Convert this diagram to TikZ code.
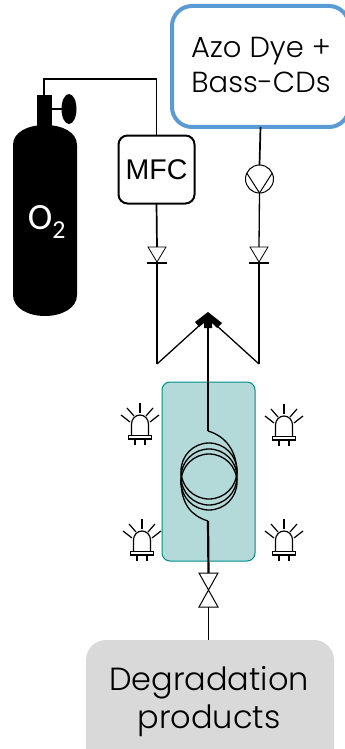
\documentclass[tikz,border=0pt]{standalone}
\usepackage{fontspec}
\usepackage{xcolor}
\usetikzlibrary{shapes.geometric}
\newfontfamily\poppins{Poppins Light}
\setmainfont{Liberation Sans}
\newfontfamily\carlito{Carlito}
\definecolor{dyeblue}{HTML}{5B9BD5}
\definecolor{reactorfill}{HTML}{B3D9D8}
\definecolor{reactoredge}{HTML}{008B8B}
\definecolor{productgray}{HTML}{D9D9D9}
\tikzset{
	pipe/.style={line width=1.7pt},
	thinpipe/.style={line width=1.3pt},
	feedpipe/.style={line width=2.2pt},
	led/.pic={
		\draw[line width=1.2pt] (-8.5,20) -- (-8.5,9) arc (180:360:8.5 and 9) -- (8.5,20);
		\draw[line width=1.2pt, fill=white] (-11.5,20.5) rectangle (11.5,24);
		\draw[line width=1.2pt] (-5,24) -- (-5,30);
		\draw[line width=1.2pt] (5,24) -- (5,30);
		\draw[line width=1.2pt] (0,-12) -- (0,-2);
		\foreach \s in {-1,1}
		{
			\draw[line width=1.2pt] (\s*13,-7) -- (\s*6,1);
			\draw[line width=1.2pt] (\s*19,0) -- (\s*10,7);
		}
	}
}
\begin{document}
\begin{tikzpicture}[x=1pt,y=-1pt]
	\useasboundingbox (0,0) rectangle (345,749);
	\node[draw=reactoredge, fill=reactorfill, line width=1pt, rounded corners=8pt, minimum width=93pt, minimum height=179pt, outer sep=0pt] (reactor) at (208.5,471.5) {};
	\node[draw=dyeblue, line width=4pt, rounded corners=20pt, minimum width=177pt, minimum height=121pt, outer sep=0pt] (dyebox) at (260.5,66.5) {};
	\node[font=\poppins\fontsize{29}{35}\selectfont, align=center, inner sep=0pt] (dyelabel) at (261,65) {Azo Dye +\\Bass-CDs};
	\node[draw, line width=2pt, rounded corners=9pt, minimum width=76pt, minimum height=68pt, outer sep=0pt, font=\fontsize{28.5}{30}\selectfont, inner sep=0pt] (mfc) at (156.5,169.5) {MFC};
	\node[draw, line width=1pt, circle, minimum size=28pt, inner sep=0pt, outer sep=0pt] (pump) at (259.5,179) {};
	\node[fill=productgray, rounded corners=20pt, minimum width=248pt, minimum height=129pt, outer sep=0pt] (products) at (210,704.5) {};
	\node[font=\poppins\fontsize{32}{38}\selectfont, align=center, inner sep=0pt] (productlabel) at (209,701.5) {Degradation\\products};
	\fill (37,126) rectangle (52,95);
	\fill (13,145) .. controls (13,132) and (28,125) .. (45,125) .. controls (62,125) and (77,132) .. (77,145) -- (77,295) .. controls (77,308) and (62,316) .. (45,316) .. controls (28,316) and (13,308) .. (13,295) -- cycle;
	\node[fill, ellipse, minimum width=15pt, minimum height=30pt, inner sep=0pt, outer sep=0pt] (handle) at (69,109) {};
	\coordinate (neck) at (44,95);
	\coordinate (stem) at (52,109);
	\draw[pipe] (stem) -- (handle);
	\draw[pipe] (neck) |- (mfc.north |- 0,79) -- (mfc.north);
	\node[text=white, font=\carlito\fontsize{37}{39}\selectfont, inner sep=0pt] (gaslabel) at (47,222) {O\textsubscript{2}};
	\foreach \name/\x in {checkL/157,checkR/259}
	{
		\coordinate (\name-top) at (\x,247);
		\coordinate (\name-bot) at (\x,263);
		\coordinate (\name-end) at (\x,364);
		\draw[line width=.8pt] (\x-9,247) -- (\x+9,247) -- (\x,262) -- cycle;
		\draw[pipe] (\x-10,263) -- (\x+10,263);
		\draw[pipe] (\name-bot) -- (\name-end);
	}
	\coordinate (mixL) at (200,325);
	\coordinate (mixR) at (216,325);
	\coordinate (mixC) at (208,325);
	\fill (208,312) -- (222,323) -- (217,328) -- (212,323) -- (212,328) -- (204,328) -- (204,323) -- (199,327) -- (195,322) -- cycle;
	\draw[pipe] (mfc.south) -- (checkL-top);
	\draw[pipe] (dyebox.south) -- (pump.north);
	\draw[thinpipe] (pump.south) -- (checkR-top);
	\draw[line width=1pt] (pump.155) -- (pump.south) -- (pump.25);
	\draw[thinpipe] (checkL-end) -- (mixL);
	\draw[thinpipe] (checkR-end) -- (mixR);
	\coordinate (coilin) at (208,431);
	\coordinate (coilout) at (208,521);
	\coordinate (valvetop) at (208.5,573);
	\coordinate (valvebot) at (208.5,607);
	\draw[feedpipe] (mixC) -- (coilin);
	\draw[feedpipe] (coilout) -- (valvetop);
	\draw[thinpipe] (coilin) .. controls (225,436) and (237,450) .. (237,474);
	\draw[thinpipe] (coilout) .. controls (192,516) and (181,505) .. (181,480);
	\foreach \y in {471,477,482}
	{
		\draw[thinpipe] (209,\y) circle (28);
	}
	\draw[line width=1pt] (199,573) -- (218,573) -- (199,607) -- (218,607) -- cycle;
	\draw[thinpipe] (valvebot) -- (products.north -| valvebot);
	\foreach \x/\y in {140/415,284/416,142/531,284/531}
	{
		\pic at (\x,\y) {led};
	}
\end{tikzpicture}
\end{document}
